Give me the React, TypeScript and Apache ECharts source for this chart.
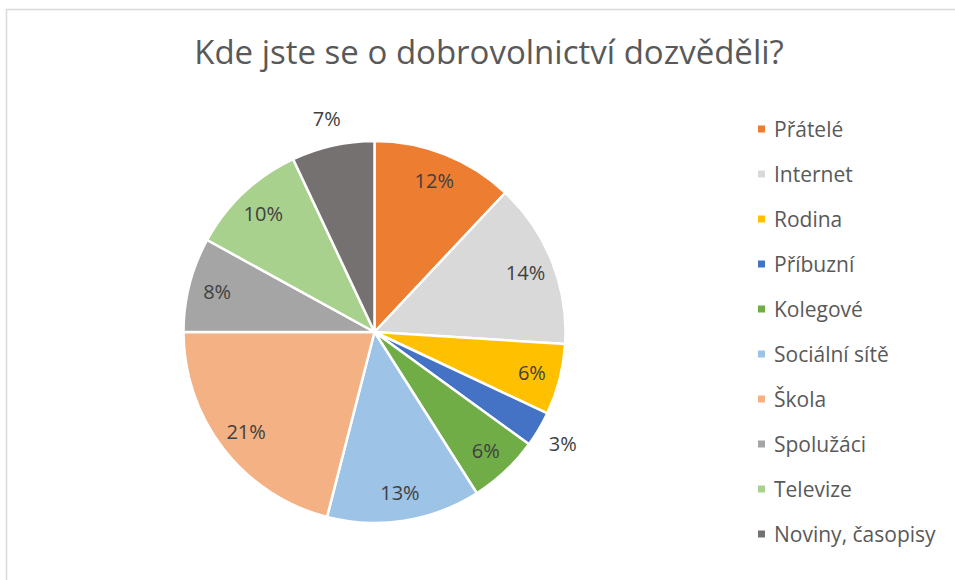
import React, { useEffect, useRef } from "react";
import * as echarts from "echarts";

const categories = [
  "Přátelé",
  "Internet",
  "Rodina",
  "Příbuzní",
  "Kolegové",
  "Sociální sítě",
  "Škola",
  "Spolužáci",
  "Televize",
  "Noviny, časopisy",
];
const values = [12, 14, 6, 3, 6, 13, 21, 8, 10, 7];
const colors = [
  "#ED7D31",
  "#D9D9D9",
  "#FFC000",
  "#4472C4",
  "#70AD47",
  "#9DC3E6",
  "#F4B183",
  "#A5A5A5",
  "#A9D18E",
  "#767171",
];
// where each slice's label sits: inside the slice or just outside
const labelRing = ["in", "in", "in", "out", "in", "in", "in", "in", "in", "out"];

const TITLE = "Kde jste se o dobrovolnictví dozvěděli?";

export default function App() {
  const ref = useRef<HTMLDivElement>(null);
  useEffect(() => {
    document.body.style.margin = "0";
    if (!ref.current) return;
    const chart = echarts.init(ref.current, undefined, { renderer: "svg" });
    const cx = 374.5;
    const cy = 332;
    const R = 191;
    const font = "'Open Sans', 'Noto Sans', sans-serif";
    const overlay = (ring: string, rad: number) => ({
      type: "pie",
      silent: true,
      center: [cx, cy],
      radius: [0, rad],
      startAngle: 90,
      clockwise: true,
      z: 5,
      itemStyle: { color: "rgba(0,0,0,0)", borderWidth: 0 },
      labelLine: { show: false },
      emphasis: { disabled: true },
      data: categories.map((name, i) => ({
        name: name,
        value: values[i],
        label: {
          show: labelRing[i] === ring,
          position: "inside",
          formatter: values[i] + "%",
          color: "#404040",
          fontSize: 20,
          fontFamily: font,
        },
      })),
    });
    chart.setOption({
      animation: false,
      backgroundColor: "#ffffff",
      color: colors,
      title: {
        text: TITLE,
        left: 484,
        top: 30,
        textAlign: "center",
        textStyle: {
          fontFamily: font,
          fontWeight: "normal",
          fontSize: 33,
          color: "#595959",
        },
      },
      legend: {
        orient: "vertical",
        left: 756,
        top: 117,
        padding: 0,
        icon: "rect",
        itemWidth: 9,
        itemHeight: 9,
        itemGap: 21,
        data: categories,
        textStyle: {
          fontFamily: font,
          fontSize: 21,
          color: "#595959",
          lineHeight: 24,
          padding: [0, 0, 0, 3],
        },
      },
      graphic: [
        {
          type: "rect",
          shape: { x: 6.5, y: 9.5, width: 1000, height: 1000 },
          style: { fill: "none", stroke: "#D9D9D9", lineWidth: 1.5 },
          silent: true,
        },
      ],
      series: [
        {
          type: "pie",
          center: [cx, cy],
          radius: [0, R],
          startAngle: 90,
          clockwise: true,
          z: 2,
          itemStyle: { borderColor: "#ffffff", borderWidth: 2.5 },
          label: { show: false },
          labelLine: { show: false },
          emphasis: { disabled: true },
          data: categories.map((name, i) => ({
            name: name,
            value: values[i],
            itemStyle: { color: colors[i] },
          })),
        },
        overlay("in", R * 1.67),
        overlay("out", R * 2.26),
      ],
    });
    return () => chart.dispose();
  }, []);
  return <div ref={ref} style={{ width: 955, height: 580 }} />;
}
